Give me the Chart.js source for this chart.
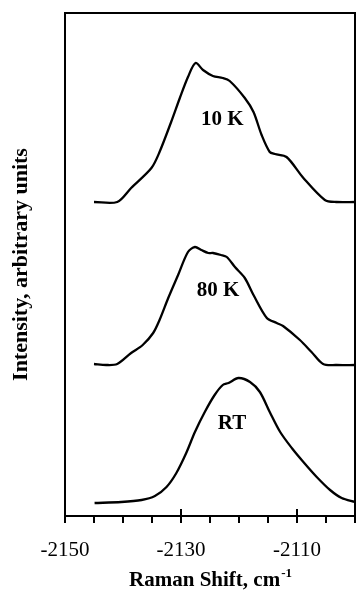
<!DOCTYPE html>
<html><head><meta charset="utf-8">
<script src="https://cdn.jsdelivr.net/npm/chart.js@4/dist/chart.umd.min.js"></script>
<style>html,body{margin:0;padding:0;background:#fff}#wrap{width:356px;height:591px}canvas{display:block}</style>
</head><body><div id="wrap"><canvas id="c" width="356" height="591"></canvas></div>
<script>
// Raman shift (cm-1) and intensity (arbitrary units, curves offset vertically)
const shift10K=[-2145.0,-2141.0,-2138.6,-2135.1,-2133.7,-2131.7,-2130.2,-2128.8,-2127.5,-2126.2,-2124.5,-2122.8,-2121.6,-2119.0,-2117.5,-2116.1,-2114.7,-2113.8,-2111.8,-2108.9,-2105.2,-2103.2,-2100.0];
const int10K=[314,314,328,348,364,394,418,439,453,446,440,438,435,418,404,381,364,362,359,338,316,314,314];
const shift80K=[-2145.0,-2142.9,-2141.0,-2138.6,-2136.6,-2134.8,-2133.7,-2132.2,-2130.5,-2128.8,-2127.6,-2126.5,-2125.3,-2124.5,-2123.1,-2122.1,-2120.7,-2119.0,-2117.5,-2115.2,-2113.5,-2112.4,-2109.5,-2107.5,-2105.5,-2103.2,-2100.0];
const int80K=[152,151,152,163,171,183,196,218,241,264,269,266,263,263,261,259,249,238,221,198,193,190,176,164,152,151,151];
const shiftRT=[-2144.9,-2140.3,-2136.8,-2134.5,-2132.5,-2130.8,-2129.1,-2127.6,-2125.9,-2124.2,-2122.8,-2121.8,-2120.1,-2118.1,-2116.4,-2114.7,-2112.9,-2110.9,-2108.9,-2106.6,-2104.3,-2102.3,-2100.0];
const intRT=[13,14,16,20,29,43,63,84,104,121,131,133,138,134,124,104,84,68,54,39,26,18,14];
const tickLabels=[-2150,-2130,-2110];
const curveLabels=['10 K','80 K','RT'];
const xTitle='Raman Shift, cm';
const xTitleSup='-1';
const yTitle='Intensity, arbitrary units';

const pts=(xs,ys)=>xs.map((x,i)=>({x:x,y:ys[i]}));
const lineStyle={borderColor:'#000',borderWidth:2.3,pointRadius:0,tension:0.3,fill:false};

// label anchor positions (data coordinates)
const labelAnchors=[{x:-2122.9,y:396},{x:-2123.6,y:225},{x:-2121.2,y:92}];

const decor={id:'decor',afterDraw(chart){
  const {ctx,chartArea:a,scales:{x,y}}=chart;
  ctx.save();
  ctx.strokeStyle='#000';ctx.fillStyle='#000';ctx.lineWidth=2;
  ctx.strokeRect(a.left,a.top,a.right-a.left,a.bottom-a.top);
  x.ticks.forEach(t=>{
    const px=x.getPixelForValue(t.value);
    const major=tickLabels.includes(t.value);
    ctx.beginPath();ctx.moveTo(px,major?a.bottom-7:a.bottom);ctx.lineTo(px,a.bottom+7);ctx.stroke();
  });
  // curve labels
  ctx.font='bold 21px "Liberation Serif"';ctx.textAlign='center';ctx.textBaseline='middle';
  curveLabels.forEach((l,i)=>{ctx.fillText(l,x.getPixelForValue(labelAnchors[i].x),y.getPixelForValue(labelAnchors[i].y));});
  // x title with superscript
  ctx.textBaseline='alphabetic';ctx.textAlign='left';
  ctx.font='bold 21px "Liberation Serif"';
  const w1=ctx.measureText(xTitle).width;
  ctx.font='bold 13px "Liberation Serif"';
  const w2=ctx.measureText(xTitleSup).width;
  const cx=(a.left+a.right)/2;
  const sx=cx-(w1+w2)/2;
  ctx.font='bold 21px "Liberation Serif"';
  ctx.fillText(xTitle,sx,586);
  ctx.font='bold 13px "Liberation Serif"';
  ctx.fillText(xTitleSup,sx+w1+1,577);
  // y title
  ctx.font='bold 22px "Liberation Serif"';ctx.textAlign='center';
  ctx.translate(27,(a.top+a.bottom)/2);ctx.rotate(-Math.PI/2);
  ctx.fillText(yTitle,0,0);
  ctx.restore();
}};

new Chart(document.getElementById('c'),{
  type:'line',
  data:{datasets:[
    Object.assign({label:'10 K',data:pts(shift10K,int10K)},lineStyle),
    Object.assign({label:'80 K',data:pts(shift80K,int80K)},lineStyle),
    Object.assign({label:'RT',data:pts(shiftRT,intRT)},lineStyle)
  ]},
  options:{
    responsive:false,animation:false,devicePixelRatio:1,
    layout:{padding:{left:65,top:13,right:1,bottom:0}},
    plugins:{legend:{display:false},tooltip:{enabled:false}},
    scales:{
      x:{type:'linear',min:-2150,max:-2100,
        ticks:{stepSize:5,autoSkip:false,maxRotation:0,padding:22,color:'#000',
          font:{family:'Liberation Serif',size:21},
          callback:v=>tickLabels.includes(v)?String(v):''},
        grid:{display:false,drawTicks:false},border:{display:false},
        afterFit:s=>{s.height=75;s.paddingLeft=0;s.paddingRight=0;}},
      y:{display:false,min:0,max:503}
    }
  },
  plugins:[decor]
});
</script></body></html>
